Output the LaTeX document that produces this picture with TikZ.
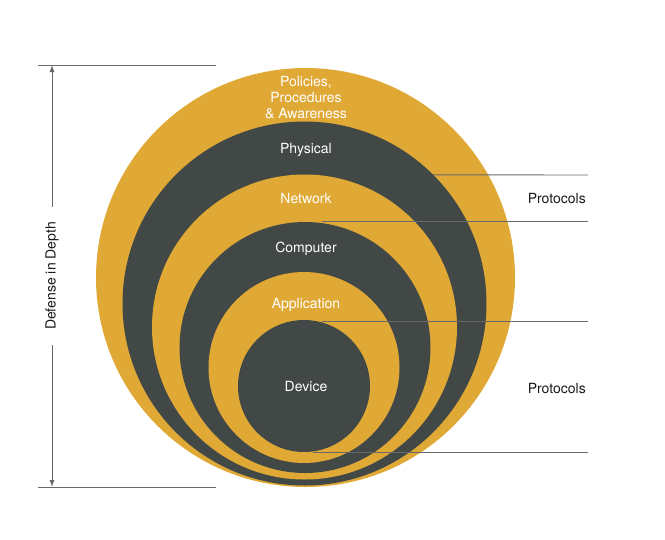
\documentclass[tikz,border=0pt]{standalone}
\usepackage{fontspec}
\setmainfont{TeX Gyre Heros}
\usepackage{xcolor}
\usepackage{tikz}
\usetikzlibrary{arrows.meta,calc,positioning}

\definecolor{ringgold}{RGB}{224,169,54}
\definecolor{ringdark}{RGB}{66,72,70}
\definecolor{rulegray}{RGB}{105,105,105}

\begin{document}
\begin{tikzpicture}[
  x=1pt,y=-1pt,
  font=\fontsize{14}{16}\selectfont,
  >={Latex[length=7pt,width=5pt]},
  layer/.style={circle,inner sep=0pt,outer sep=0pt},
  ringlabel/.style={text=white,align=center,inner sep=0pt},
  guide/.style={draw=rulegray,line width=0.9pt},
  sidelabel/.style={text=black!90,anchor=base east,inner sep=0pt}
]
\useasboundingbox (0,0) rectangle (665,539);

% rings, from the outside in
\node[layer,fill=ringgold,minimum size=419pt] (policies)    at (305.5,277.5) {};
\node[layer,fill=ringdark,minimum size=364pt] (physical)    at (304.5,303.5) {};
\node[layer,fill=ringgold,minimum size=305pt] (network)     at (304.5,327) {};
\node[layer,fill=ringdark,minimum size=251pt] (computer)    at (305,347.5) {};
\node[layer,fill=ringgold,minimum size=191pt] (application) at (304,367.5) {};
\node[layer,fill=ringdark,minimum size=132pt] (device)      at (304,386) {};

% ring names
\node[ringlabel] (policiestext) at (306,98) {Policies,\\Procedures\\\& Awareness};
\node[ringlabel,anchor=base] (physicaltext)    at (306,153) {Physical};
\node[ringlabel,anchor=base] (networktext)     at (306,203) {Network};
\node[ringlabel,anchor=base] (computertext)    at (306,252) {Computer};
\node[ringlabel,anchor=base] (applicationtext) at (306,308) {Application};
\node[ringlabel,anchor=base] (devicetext)      at (306,391) {Device};

% protocol bands on the right
\coordinate (netstart) at (322,221);
\coordinate (appstart) at (322,321);
\coordinate (devstart) at (313,452);
\coordinate (endA) at (588,175);
\coordinate (endB) at (588,221);
\coordinate (endC) at (588,321);
\coordinate (endD) at (588,452);
\draw[guide] (physical.45) -- (endA);
\draw[guide] (netstart) -- (endB);
\draw[guide] (appstart) -- (endC);
\draw[guide] (devstart) -- (endD);
\node[sidelabel] (protocolsup) at (586,203) {Protocols};
\node[sidelabel] (protocolsdown) at (586,393) {Protocols};

% depth scale on the left
\coordinate (scaletopL) at (38,65);
\coordinate (scaletopR) at (216,65);
\coordinate (scalebotL) at (38,487);
\coordinate (scalebotR) at (216,487);
\coordinate (deptop) at (52,65);
\coordinate (depbot) at (52,487);
\draw[guide] (scaletopL) -- (scaletopR);
\draw[guide] (scalebotL) -- (scalebotR);
\node[rotate=90,text=black!90,inner sep=0pt] (depthtext) at (52,276) {Defense in Depth};
\draw[guide,->,shorten <=15pt] (depthtext.east) -- (deptop);
\draw[guide,->,shorten <=15pt] (depthtext.west) -- (depbot);
\end{tikzpicture}
\end{document}
